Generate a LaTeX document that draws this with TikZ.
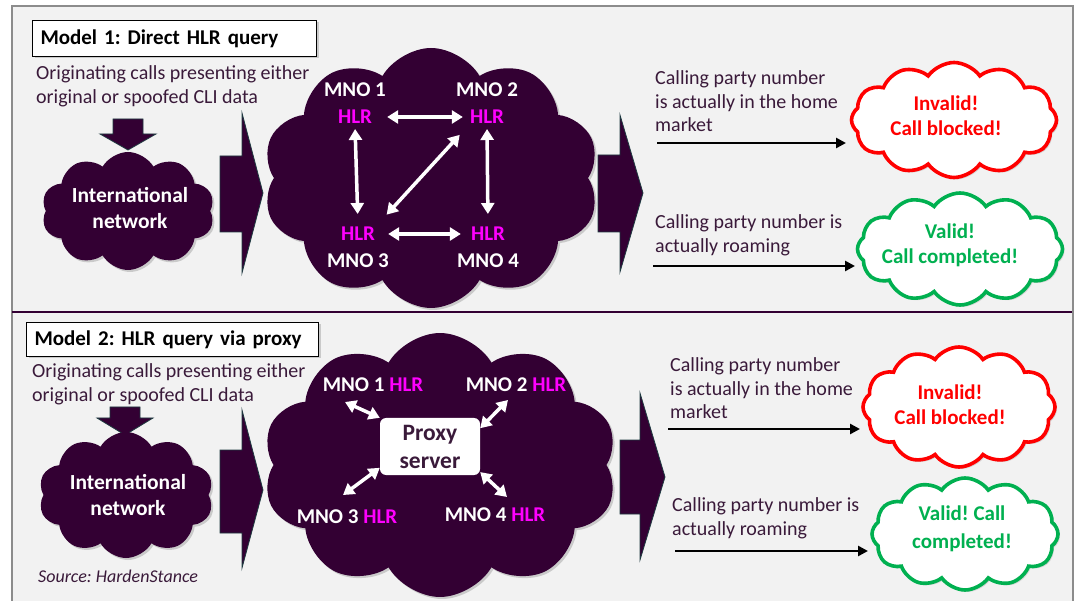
\documentclass[tikz,border=0pt]{standalone}
\usepackage{fontspec}
\setmainfont{Carlito}
\usetikzlibrary{shapes.symbols,arrows.meta,shadows,calc}
\definecolor{dp}{HTML}{330033}
\definecolor{tp}{HTML}{3A1A3A}
\definecolor{mag}{HTML}{FF00FF}
\definecolor{rd}{HTML}{FF0000}
\definecolor{gn}{HTML}{00B050}
\definecolor{bg}{HTML}{F2F2F2}
\definecolor{fr}{HTML}{8C8C8C}
\definecolor{edgec}{HTML}{1E3A40}
\begin{document}
\frenchspacing
\begin{tikzpicture}[x=1pt,y=-1pt,
  darkcloud/.style={cloud, cloud puffs=10, cloud puff arc=120, cloud ignores aspect, fill=dp, draw=none, inner sep=0pt,
    drop shadow={opacity=0.35, shadow xshift=2pt, shadow yshift=-2pt}},
  whitecloud/.style={cloud, cloud puffs=12, cloud puff arc=110, cloud ignores aspect, fill=white, line width=3.6pt, inner sep=0pt,
    drop shadow={opacity=0.25, shadow xshift=2pt, shadow yshift=-2pt}},
  titlebox/.style={draw=black, line width=1pt, fill=white, inner xsep=8pt, inner ysep=0pt, text width=268pt, minimum height=36pt,
    font=\bfseries\fontsize{21}{24}\selectfont, anchor=north west, drop shadow={opacity=0.35, shadow xshift=2pt, shadow yshift=-2pt}},
  body/.style={text=tp, font=\fontsize{20}{23.5}\selectfont, align=left, inner sep=0pt, anchor=west},
  ctext/.style={text=white, font=\bfseries\fontsize{21.5}{26}\selectfont, align=center, inner sep=0pt},
  hlr/.style={text=mag, font=\bfseries\fontsize{21}{24}\selectfont, inner sep=2pt},
  mno/.style={text=white, font=\bfseries\fontsize{21}{24}\selectfont, inner sep=2pt},
  chev/.style={fill=dp, draw=edgec, line width=0.8pt},
  dblw/.style={white, line width=3.5pt, {Triangle[width=13pt,length=11pt]}-{Triangle[width=13pt,length=11pt]}},
  blk/.style={black, line width=2.8pt, -{Triangle[width=10pt,length=10pt]}},
  rtext/.style={text=rd, font=\bfseries\fontsize{21}{25}\selectfont, align=center, inner sep=0pt},
  gtext/.style={text=gn, font=\bfseries\fontsize{21}{25}\selectfont, align=center, inner sep=0pt}
]
\useasboundingbox (0,0) rectangle (1079,601);
\fill[white] (0,0) rectangle (1079,601);
\fill[bg] (12,6) rectangle (1073,601);
\draw[fr, line width=2pt] (12,601) -- (12,6) -- (1073,6) -- (1073,601);
\draw[dp, line width=2pt] (12,312) -- (1072,312);

% ---------- Model 1 ----------
\node[titlebox] (t1) at (32,20) {Model 1: Direct HLR query};
\node[body] (orig1) at (36,86.5) {Originating calls presenting either\\original or spoofed CLI data};
\fill[chev] (113,119) -- (143,119) -- (143,134) -- (156,134) -- (128,150) -- (100,134) -- (113,134) -- cycle;
\node[darkcloud, minimum width=173pt, minimum height=118pt] (intl1) at (128,211) {};
\node[ctext] (intl1t) at (130,208) {International\\network};

\node[darkcloud, minimum width=337pt, minimum height=260pt] (big1) at (431,178) {};
\fill[chev] (220,156) -- (242,156) -- (242,113) -- (263,193) -- (242,273) -- (242,232) -- (220,232) -- cycle;
\fill[chev] (598,155) -- (620,155) -- (620,115) -- (643,193) -- (620,272) -- (620,232) -- (598,232) -- cycle;

\node[mno] (m1) at (355,90) {MNO 1};
\node[hlr] (h1) at (355,117) {HLR};
\node[mno] (m2) at (487,90) {MNO 2};
\node[hlr] (h2) at (487,117) {HLR};
\node[hlr] (h3) at (358,234) {HLR};
\node[mno] (m3) at (358,261) {MNO 3};
\node[hlr] (h4) at (488,234) {HLR};
\node[mno] (m4) at (488,261) {MNO 4};
\draw[dblw, shorten <=13pt, shorten >=5pt] (h1.east) -- (h2.west);
\draw[dblw, shorten <=11pt, shorten >=8pt] (h3.east) -- (h4.west);
\draw[dblw, shorten <=3pt, shorten >=11pt] (h1.south) -- (h3.north);
\draw[dblw, shorten <=3pt, shorten >=11pt] (h2.south) -- (h4.north);
\draw[dblw, shorten <=12pt, shorten >=14pt] (h2.south west) -- (h3.north east);

\node[body] (call1) at (655,101.5) {Calling party number\\is actually in the home\\market};
\node[body] (roam1) at (655,235.5) {Calling party number is\\actually roaming};
\node[whitecloud, draw=rd, minimum width=205pt, minimum height=115pt] (red1) at (954,120) {};
\node[rtext] (red1t) at (946,116) {Invalid!\\Call blocked!};
\node[whitecloud, draw=gn, minimum width=205pt, minimum height=112pt] (green1) at (960,249) {};
\node[gtext] (green1t) at (950,245) {Valid!\\Call completed!};
\coordinate (k1) at (657,143);
\coordinate (k1e) at (846,143);
\coordinate (k2) at (653,266);
\coordinate (k2e) at (855,266);
\draw[blk] (k1) -- (k1e);
\draw[blk] (k2) -- (k2e);

% ---------- Model 2 ----------
\node[titlebox, text width=276pt, minimum height=34pt] (t2) at (26,322) {Model 2: HLR query via proxy};
\node[body] (orig2) at (32,384.5) {Originating calls presenting either\\original or spoofed CLI data};
\fill[chev] (110,407) -- (140,407) -- (140,418) -- (153,418) -- (125,435) -- (97,418) -- (110,418) -- cycle;
\node[darkcloud, minimum width=175pt, minimum height=126pt] (intl2) at (126,495) {};
\node[ctext] (intl2t) at (128,495) {International\\network};
\node[text=tp, font=\itshape\fontsize{18}{20}\selectfont, anchor=west, inner sep=0pt] (src) at (38,576) {Source: HardenStance};

\node[darkcloud, minimum width=355pt, minimum height=264pt] (big2) at (440,465) {};
\fill[chev] (220,450) -- (242,450) -- (242,410) -- (263,490) -- (242,568) -- (242,533) -- (220,533) -- cycle;
\fill[chev] (620,440) -- (640,440) -- (640,393) -- (665,477) -- (640,560) -- (640,514) -- (620,514) -- cycle;

\node[mno] (n1) at (373,385) {MNO 1 \textcolor{mag}{HLR}};
\node[mno] (n2) at (516,385) {MNO 2 \textcolor{mag}{HLR}};
\node[mno] (n3) at (347,517) {MNO 3 \textcolor{mag}{HLR}};
\node[mno] (n4) at (495,515) {MNO 4 \textcolor{mag}{HLR}};
\node[fill=white, rounded corners=6pt, minimum width=100pt, minimum height=57pt, inner sep=0pt, align=center,
  text=tp, font=\bfseries\fontsize{23.5}{28}\selectfont] (proxy) at (430,446.5) {Proxy\\server};
\coordinate (c1) at (345,402);
\coordinate (c2) at (508,400);
\coordinate (c3) at (343,495);
\coordinate (c4) at (507,497);
\draw[dblw] (c1) -- (proxy.north west);
\draw[dblw] (c2) -- (proxy.20);
\draw[dblw] (c3) -- (proxy.203);
\draw[dblw] (c4) -- (proxy.-27);

\node[body] (call2) at (670,388.5) {Calling party number\\is actually in the home\\market};
\node[body] (roam2) at (672,518.5) {Calling party number is\\actually roaming};
\node[whitecloud, draw=rd, minimum width=192pt, minimum height=120pt] (red2) at (959,407) {};
\node[rtext] (red2t) at (950,405) {Invalid!\\Call blocked!};
\node[whitecloud, draw=gn, minimum width=186pt, minimum height=112pt] (green2) at (965,534) {};
\node[gtext, font=\bfseries\fontsize{21}{28}\selectfont] (green2t) at (962,529) {Valid! Call\\completed!};
\coordinate (k3) at (668,429);
\coordinate (k3e) at (860,429);
\coordinate (k4) at (675,551);
\coordinate (k4e) at (868,551);
\draw[blk] (k3) -- (k3e);
\draw[blk] (k4) -- (k4e);
\end{tikzpicture}
\end{document}
